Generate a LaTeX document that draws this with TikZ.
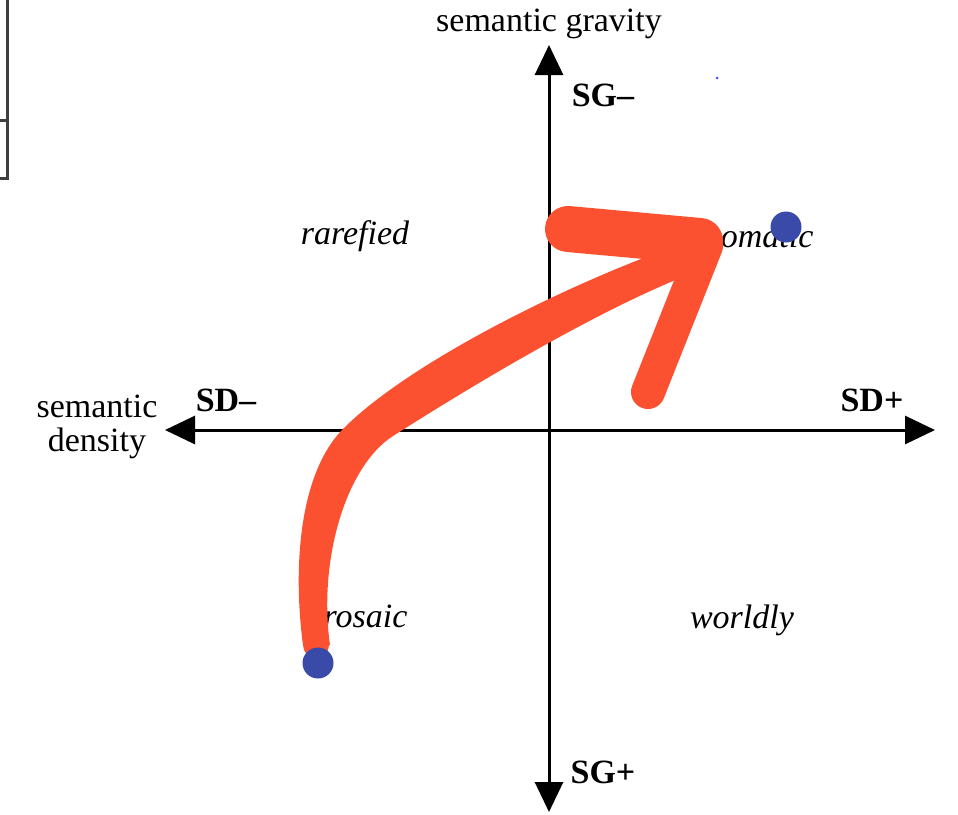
\documentclass[tikz,border=0pt]{standalone}
\usepackage{fontspec}
\setmainfont{Liberation Serif}
\usetikzlibrary{arrows.meta, positioning}

\definecolor{marker}{HTML}{FC5130}
\definecolor{dotblue}{HTML}{3A4AA8}

\begin{document}
\begin{tikzpicture}[x=1pt, y=-1pt,
    axis/.style={line width=3pt, {Triangle[length=30pt,width=28pt]}-{Triangle[length=30pt,width=28pt]}},
    pole/.style={font=\fontsize{34}{36}\selectfont\bfseries},
    title/.style={font=\fontsize{34}{34}\selectfont, align=center},
    zone/.style={font=\fontsize{34}{36}\selectfont\itshape},
    dot/.style={circle, fill=dotblue, inner sep=0pt, minimum size=31pt},
    stroke/.style={draw=marker, line cap=round, line join=round}]
    \useasboundingbox (0,0) rectangle (958,814);

    % Edge of the table on the left
    \draw[line width=3pt, black!75] (7,0) -- (7,178) -- (0,178);
    \draw[line width=3pt, black!75] (0,120) -- (7,120);

    % Axis ends
    \coordinate (sdminus) at (165,430);
    \coordinate (sdplus) at (935,430);
    \coordinate (sgminus) at (549,45);
    \coordinate (sgplus) at (549,812);

    % Axis titles and poles
    \node[title] (gravity) at (549,24) {semantic gravity};
    \node[title] (density) at (97,427) {semantic\\density};
    \node[pole] (sgm) at (603,95) {SG–};
    \node[pole] (sgp) at (603,772) {SG+};
    \node[pole] (sdm) at (226,400) {SD–};
    \node[pole] (sdp) at (872,400) {SD+};

    % Quadrants
    \node[zone] (rarefied) at (355,236) {rarefied};
    \node[zone] (rhizomatic) at (741,236) {rhizomatic};
    \node[zone] (prosaic) at (357,620) {prosaic};
    \node[zone] (worldly) at (742,620) {worldly};

    % Axes
    \draw[axis] (sdminus) -- (sdplus);
    \draw[axis] (sgminus) -- (sgplus);

    % Hand-drawn arrow: shaft gets wider towards the head
    \fill[marker] (303,645) .. controls (293,570) and (298,472) .. (345,427)
        .. controls (418,355) and (600,268) .. (712,234)
        -- (712,266) .. controls (612,300) and (462,392) .. (393,436)
        .. controls (346,466) and (318,560) .. (330,645) -- cycle;
    \fill[marker] (316,645) circle (13);
    \coordinate (tip) at (706,246);
    \coordinate (barbtop) at (568,229);
    \coordinate (barblow) at (648,392);
    \draw[stroke, line width=46pt] (barbtop) -- (700,241);
    \draw[stroke, line width=34pt] (tip) -- (barblow);

    % Points
    \node[dot] (low) at (318,663) {};
    \node[dot] (high) at (786,227) {};
    \fill[blue!70] (717,78) circle (1.5);
\end{tikzpicture}
\end{document}
